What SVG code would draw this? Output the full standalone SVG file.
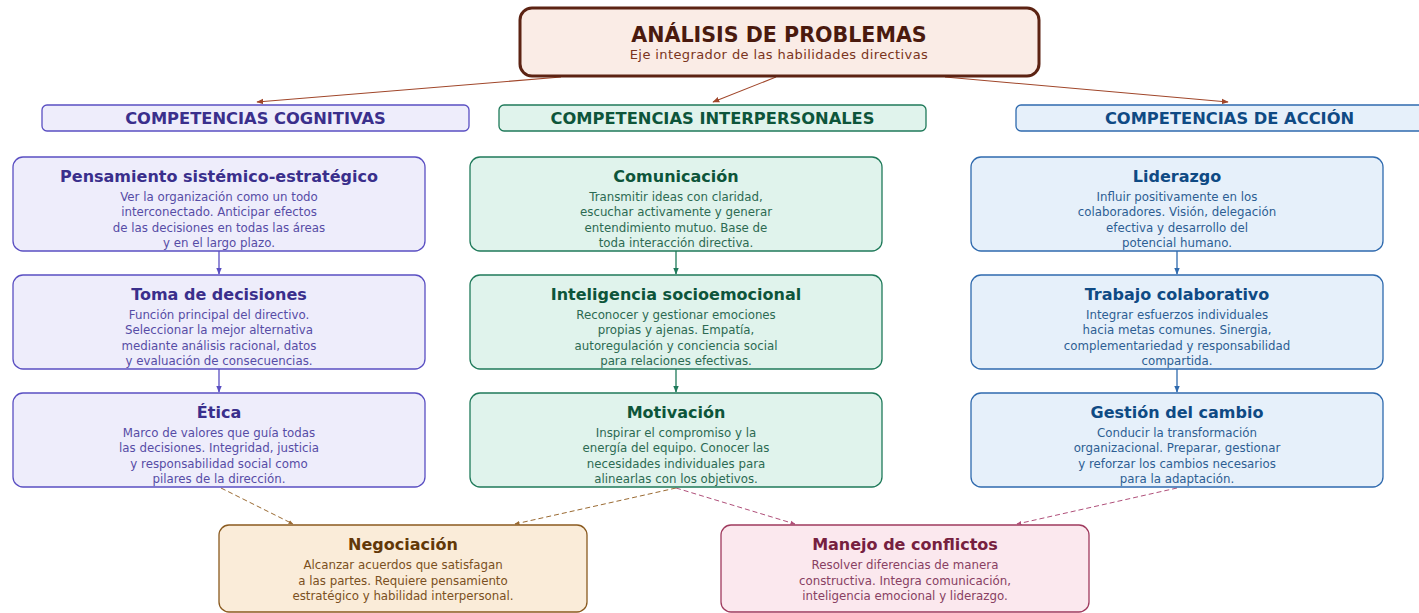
<svg xmlns="http://www.w3.org/2000/svg" width="1419" height="613" viewBox="0 0 1419 613">
<defs>
<style>
text{font-family:"DejaVu Sans",Verdana,sans-serif;text-anchor:middle}
.t{font-weight:bold;font-size:16px}
.d{font-size:11.8px}
.h{font-weight:bold;font-size:16.3px}
.cog rect{fill:#eeedfb;stroke:#5a4fc2;stroke-width:1.3}
.cog .t,.hc{fill:#3a2f8c}
.cog .d{fill:#564ca6}
.int rect{fill:#e0f3ec;stroke:#1f7a5a;stroke-width:1.3}
.int .t,.hi{fill:#0d553a}
.int .d{fill:#2c6a52}
.acc rect{fill:#e6f0fa;stroke:#2f6aae;stroke-width:1.3}
.acc .t,.ha{fill:#0f4a84}
.acc .d{fill:#2d5e93}
.neg rect{fill:#faecd9;stroke:#8a5a1f;stroke-width:1.3}
.neg .t{fill:#623808}
.neg .d{fill:#7a5021}
.man rect{fill:#fbe8ee;stroke:#9f3a5e;stroke-width:1.3}
.man .t{fill:#76203f}
.man .d{fill:#884062}
</style>
<marker id="mBr" viewBox="0 0 10 10" refX="9" refY="5" markerWidth="7" markerHeight="7" orient="auto" markerUnits="userSpaceOnUse"><path d="M0,1 L10,5 L0,9 z" fill="#a0462a"/></marker>
<marker id="mC" viewBox="0 0 10 10" refX="9" refY="5" markerWidth="7" markerHeight="7" orient="auto" markerUnits="userSpaceOnUse"><path d="M0,1 L10,5 L0,9 z" fill="#5a4fc2"/></marker>
<marker id="mI" viewBox="0 0 10 10" refX="9" refY="5" markerWidth="7" markerHeight="7" orient="auto" markerUnits="userSpaceOnUse"><path d="M0,1 L10,5 L0,9 z" fill="#1f7a5a"/></marker>
<marker id="mA" viewBox="0 0 10 10" refX="9" refY="5" markerWidth="7" markerHeight="7" orient="auto" markerUnits="userSpaceOnUse"><path d="M0,1 L10,5 L0,9 z" fill="#2f6aae"/></marker>
<marker id="mN" viewBox="0 0 10 10" refX="9" refY="5" markerWidth="5" markerHeight="5" orient="auto" markerUnits="userSpaceOnUse"><path d="M0,1 L10,5 L0,9 z" fill="#9a6a32"/></marker>
<marker id="mM" viewBox="0 0 10 10" refX="9" refY="5" markerWidth="5" markerHeight="5" orient="auto" markerUnits="userSpaceOnUse"><path d="M0,1 L10,5 L0,9 z" fill="#b0507a"/></marker>
</defs>
<rect width="1419" height="613" fill="#ffffff"/>

<g id="connectors" fill="none">
<line x1="561" y1="77" x2="257" y2="102" stroke="#a0462a" stroke-width="1.1" marker-end="url(#mBr)"/>
<line x1="776" y1="77" x2="713" y2="102" stroke="#a0462a" stroke-width="1.1" marker-end="url(#mBr)"/>
<line x1="945" y1="77" x2="1228" y2="102" stroke="#a0462a" stroke-width="1.1" marker-end="url(#mBr)"/>
<line x1="219" y1="251" x2="219" y2="274" stroke="#5a4fc2" stroke-width="1.3" marker-end="url(#mC)"/>
<line x1="219" y1="369" x2="219" y2="392" stroke="#5a4fc2" stroke-width="1.3" marker-end="url(#mC)"/>
<line x1="676" y1="251" x2="676" y2="274" stroke="#1f7a5a" stroke-width="1.3" marker-end="url(#mI)"/>
<line x1="676" y1="369" x2="676" y2="392" stroke="#1f7a5a" stroke-width="1.3" marker-end="url(#mI)"/>
<line x1="1177" y1="251" x2="1177" y2="274" stroke="#2f6aae" stroke-width="1.3" marker-end="url(#mA)"/>
<line x1="1177" y1="369" x2="1177" y2="392" stroke="#2f6aae" stroke-width="1.3" marker-end="url(#mA)"/>
<line x1="221" y1="488" x2="293" y2="524" stroke="#9a6a32" stroke-width="1" stroke-dasharray="5,3" marker-end="url(#mN)"/>
<line x1="676" y1="488" x2="515" y2="524" stroke="#9a6a32" stroke-width="1" stroke-dasharray="5,3" marker-end="url(#mN)"/>
<line x1="676" y1="488" x2="795" y2="524" stroke="#b0507a" stroke-width="1" stroke-dasharray="5,3" marker-end="url(#mM)"/>
<line x1="1177" y1="488" x2="1017" y2="524" stroke="#b0507a" stroke-width="1" stroke-dasharray="5,3" marker-end="url(#mM)"/>
</g>

<g id="root">
<rect x="520" y="8" width="519" height="68" rx="12" fill="#faece6" stroke="#5c2313" stroke-width="3"/>
<text x="779" y="42" font-weight="bold" font-size="20.6" fill="#4a1a0e">ANÁLISIS DE PROBLEMAS</text>
<text x="779" y="59" font-size="13" letter-spacing="0.4" fill="#7a3420">Eje integrador de las habilidades directivas</text>
</g>

<g id="hdr-cog"><rect x="42" y="105" width="427" height="26" rx="5" fill="#eeedfb" stroke="#5a4fc2" stroke-width="1.3"/><text class="h hc" x="255.5" y="124">COMPETENCIAS COGNITIVAS</text></g>
<g id="hdr-int"><rect x="499" y="105" width="427" height="26" rx="5" fill="#e0f3ec" stroke="#1f7a5a" stroke-width="1.3"/><text class="h hi" x="712.5" y="124">COMPETENCIAS INTERPERSONALES</text></g>
<g id="hdr-acc"><rect x="1016" y="105" width="427" height="26" rx="5" fill="#e6f0fa" stroke="#2f6aae" stroke-width="1.3"/><text class="h ha" x="1229.5" y="124">COMPETENCIAS DE ACCIÓN</text></g>

<g id="pensamiento" class="cog"><rect x="13" y="157" width="412" height="94" rx="10"/>
<text class="t" x="219" y="182">Pensamiento sistémico-estratégico</text>
<text class="d" x="219" y="200.5">Ver la organización como un todo</text>
<text class="d" x="219" y="216">interconectado. Anticipar efectos</text>
<text class="d" x="219" y="231.5">de las decisiones en todas las áreas</text>
<text class="d" x="219" y="247">y en el largo plazo.</text></g>

<g id="decisiones" class="cog"><rect x="13" y="275" width="412" height="94" rx="10"/>
<text class="t" x="219" y="300">Toma de decisiones</text>
<text class="d" x="219" y="318.5">Función principal del directivo.</text>
<text class="d" x="219" y="334">Seleccionar la mejor alternativa</text>
<text class="d" x="219" y="349.5">mediante análisis racional, datos</text>
<text class="d" x="219" y="365">y evaluación de consecuencias.</text></g>

<g id="etica" class="cog"><rect x="13" y="393" width="412" height="94" rx="10"/>
<text class="t" x="219" y="418">Ética</text>
<text class="d" x="219" y="436.5">Marco de valores que guía todas</text>
<text class="d" x="219" y="452">las decisiones. Integridad, justicia</text>
<text class="d" x="219" y="467.5">y responsabilidad social como</text>
<text class="d" x="219" y="483">pilares de la dirección.</text></g>

<g id="comunicacion" class="int"><rect x="470" y="157" width="412" height="94" rx="10"/>
<text class="t" x="676" y="182">Comunicación</text>
<text class="d" x="676" y="200.5">Transmitir ideas con claridad,</text>
<text class="d" x="676" y="216">escuchar activamente y generar</text>
<text class="d" x="676" y="231.5">entendimiento mutuo. Base de</text>
<text class="d" x="676" y="247">toda interacción directiva.</text></g>

<g id="inteligencia" class="int"><rect x="470" y="275" width="412" height="94" rx="10"/>
<text class="t" x="676" y="300">Inteligencia socioemocional</text>
<text class="d" x="676" y="318.5">Reconocer y gestionar emociones</text>
<text class="d" x="676" y="334">propias y ajenas. Empatía,</text>
<text class="d" x="676" y="349.5">autoregulación y conciencia social</text>
<text class="d" x="676" y="365">para relaciones efectivas.</text></g>

<g id="motivacion" class="int"><rect x="470" y="393" width="412" height="94" rx="10"/>
<text class="t" x="676" y="418">Motivación</text>
<text class="d" x="676" y="436.5">Inspirar el compromiso y la</text>
<text class="d" x="676" y="452">energía del equipo. Conocer las</text>
<text class="d" x="676" y="467.5">necesidades individuales para</text>
<text class="d" x="676" y="483">alinearlas con los objetivos.</text></g>

<g id="liderazgo" class="acc"><rect x="971" y="157" width="412" height="94" rx="10"/>
<text class="t" x="1177" y="182">Liderazgo</text>
<text class="d" x="1177" y="200.5">Influir positivamente en los</text>
<text class="d" x="1177" y="216">colaboradores. Visión, delegación</text>
<text class="d" x="1177" y="231.5">efectiva y desarrollo del</text>
<text class="d" x="1177" y="247">potencial humano.</text></g>

<g id="trabajo" class="acc"><rect x="971" y="275" width="412" height="94" rx="10"/>
<text class="t" x="1177" y="300">Trabajo colaborativo</text>
<text class="d" x="1177" y="318.5">Integrar esfuerzos individuales</text>
<text class="d" x="1177" y="334">hacia metas comunes. Sinergia,</text>
<text class="d" x="1177" y="349.5">complementariedad y responsabilidad</text>
<text class="d" x="1177" y="365">compartida.</text></g>

<g id="cambio" class="acc"><rect x="971" y="393" width="412" height="94" rx="10"/>
<text class="t" x="1177" y="418">Gestión del cambio</text>
<text class="d" x="1177" y="436.5">Conducir la transformación</text>
<text class="d" x="1177" y="452">organizacional. Preparar, gestionar</text>
<text class="d" x="1177" y="467.5">y reforzar los cambios necesarios</text>
<text class="d" x="1177" y="483">para la adaptación.</text></g>

<g id="negociacion" class="neg"><rect x="219" y="525" width="368" height="87" rx="10"/>
<text class="t" x="403" y="550">Negociación</text>
<text class="d" x="403" y="569">Alcanzar acuerdos que satisfagan</text>
<text class="d" x="403" y="584.5">a las partes. Requiere pensamiento</text>
<text class="d" x="403" y="600">estratégico y habilidad interpersonal.</text></g>

<g id="conflictos" class="man"><rect x="721" y="525" width="368" height="87" rx="10"/>
<text class="t" x="905" y="550">Manejo de conflictos</text>
<text class="d" x="905" y="569">Resolver diferencias de manera</text>
<text class="d" x="905" y="584.5">constructiva. Integra comunicación,</text>
<text class="d" x="905" y="600">inteligencia emocional y liderazgo.</text></g>
</svg>
